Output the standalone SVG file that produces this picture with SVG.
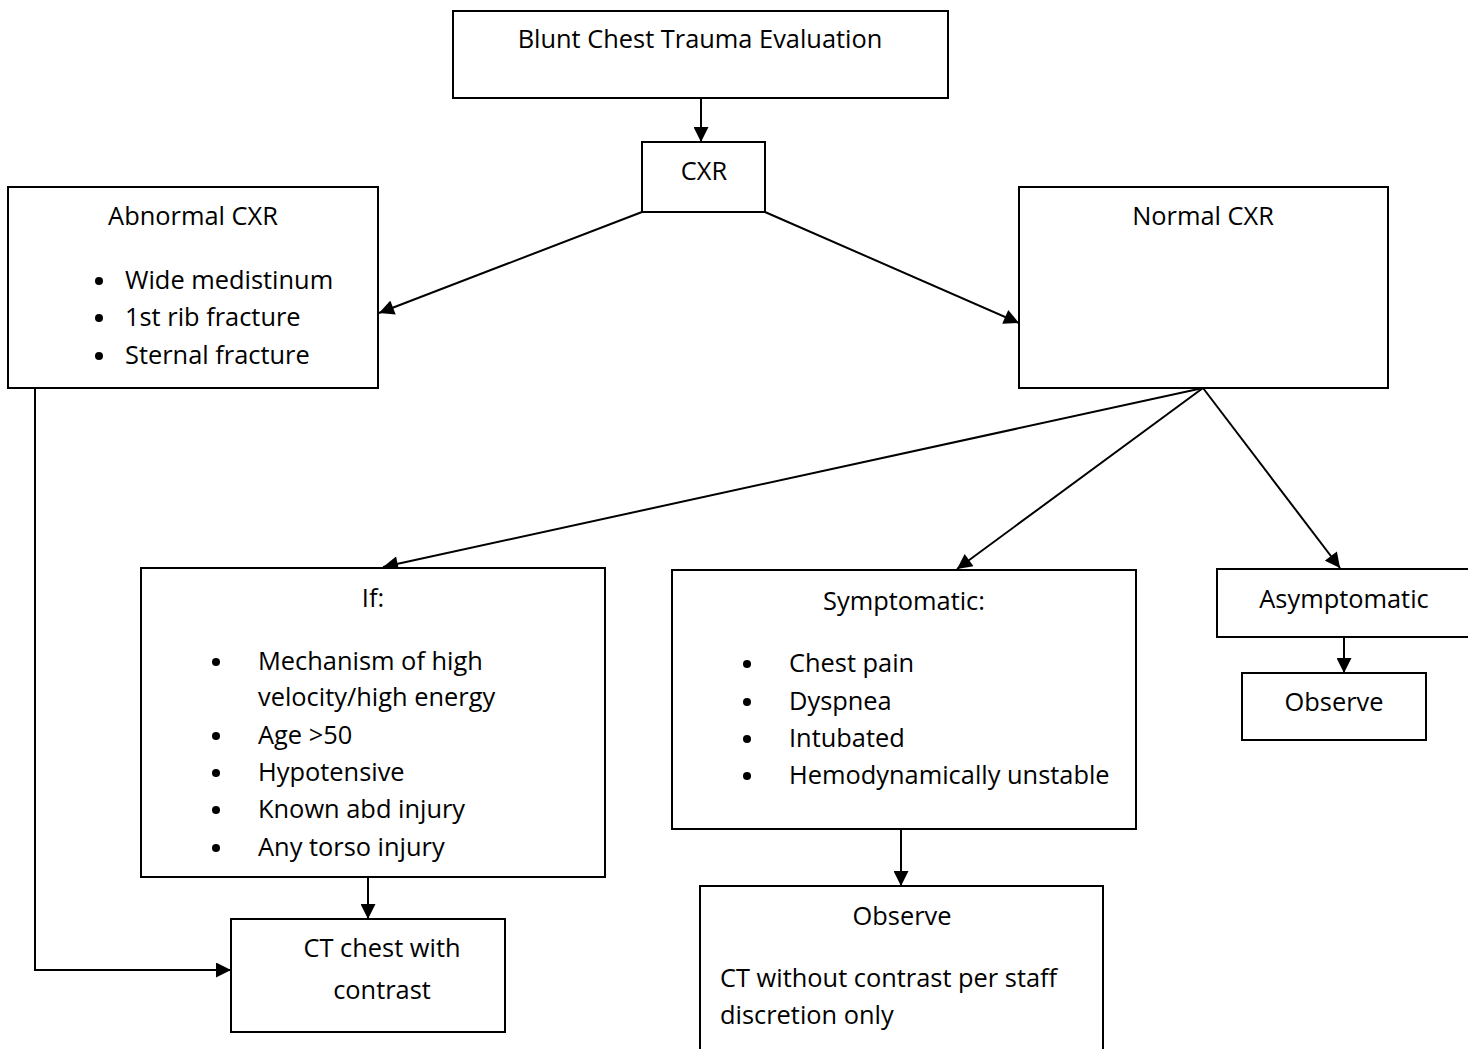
<svg xmlns="http://www.w3.org/2000/svg" width="1468" height="1049" viewBox="0 0 1468 1049">
<style>
.box{fill:#fff;stroke:#000;stroke-width:2}
text{font-family:"Open Sans","Liberation Sans",sans-serif;font-size:25.4px;fill:#000}
.c{text-anchor:middle}
.ln{stroke:#000;stroke-width:2;fill:none}
</style>
<defs>
<marker id="ah" viewBox="0 0 10 10" refX="10" refY="5" markerWidth="16" markerHeight="15" markerUnits="userSpaceOnUse" orient="auto">
<path d="M0,0 L10,5 L0,10 z" fill="#000"/>
</marker>
<circle id="dot" r="4" fill="#000"/>
</defs>
<rect width="1468" height="1049" fill="#fff"/>
<g id="connectors">
<line class="ln" x1="701" y1="98" x2="701" y2="142" marker-end="url(#ah)"/>
<line class="ln" x1="642" y1="212" x2="379" y2="313" marker-end="url(#ah)"/>
<line class="ln" x1="765" y1="212" x2="1019" y2="323" marker-end="url(#ah)"/>
<line class="ln" x1="1203" y1="388" x2="383" y2="567" marker-end="url(#ah)"/>
<line class="ln" x1="1203" y1="388" x2="957" y2="569" marker-end="url(#ah)"/>
<line class="ln" x1="1203" y1="388" x2="1340" y2="568" marker-end="url(#ah)"/>
<line class="ln" x1="1344" y1="637" x2="1344" y2="673" marker-end="url(#ah)"/>
<line class="ln" x1="368" y1="877" x2="368" y2="919" marker-end="url(#ah)"/>
<polyline class="ln" points="35,388 35,970 231,970" marker-end="url(#ah)"/>
<line class="ln" x1="901" y1="829" x2="901" y2="886" marker-end="url(#ah)"/>
</g>
<g id="n-top">
<rect class="box" x="453" y="11" width="495" height="87"/>
<text class="c" x="700" y="48">Blunt Chest Trauma Evaluation</text>
</g>
<g id="n-cxr">
<rect class="box" x="642" y="142" width="123" height="70"/>
<text class="c" x="704" y="180">CXR</text>
</g>
<g id="n-abnormal">
<rect class="box" x="8" y="187" width="370" height="201"/>
<text class="c" x="193" y="225">Abnormal CXR</text>
<use href="#dot" x="99" y="281"/><text x="125" y="289">Wide medistinum</text>
<use href="#dot" x="99" y="318"/><text x="125" y="326">1st rib fracture</text>
<use href="#dot" x="99" y="356"/><text x="125" y="364">Sternal fracture</text>
</g>
<g id="n-normal">
<rect class="box" x="1019" y="187" width="369" height="201"/>
<text class="c" x="1203" y="225">Normal CXR</text>
</g>
<g id="n-if">
<rect class="box" x="141" y="568" width="464" height="309"/>
<text class="c" x="373" y="607">If:</text>
<use href="#dot" x="216" y="662"/><text x="258" y="670">Mechanism of high</text>
<text x="258" y="706">velocity/high energy</text>
<use href="#dot" x="216" y="736"/><text x="258" y="744">Age &gt;50</text>
<use href="#dot" x="216" y="773"/><text x="258" y="781">Hypotensive</text>
<use href="#dot" x="216" y="810"/><text x="258" y="818">Known abd injury</text>
<use href="#dot" x="216" y="848"/><text x="258" y="856">Any torso injury</text>
</g>
<g id="n-symptomatic">
<rect class="box" x="672" y="570" width="464" height="259"/>
<text class="c" x="904" y="610">Symptomatic:</text>
<use href="#dot" x="747" y="664"/><text x="789" y="672">Chest pain</text>
<use href="#dot" x="747" y="702"/><text x="789" y="710">Dyspnea</text>
<use href="#dot" x="747" y="739"/><text x="789" y="747">Intubated</text>
<use href="#dot" x="747" y="776"/><text x="789" y="784">Hemodynamically unstable</text>
</g>
<g id="n-asymptomatic">
<rect class="box" x="1217" y="569" width="260" height="68"/>
<text class="c" x="1344" y="608">Asymptomatic</text>
</g>
<g id="n-observe1">
<rect class="box" x="1242" y="673" width="184" height="67"/>
<text class="c" x="1334" y="711">Observe</text>
</g>
<g id="n-ct">
<rect class="box" x="231" y="919" width="274" height="113"/>
<text class="c" x="382" y="957">CT chest with</text>
<text class="c" x="382" y="999">contrast</text>
</g>
<g id="n-observe2">
<rect class="box" x="700" y="886" width="403" height="175"/>
<text class="c" x="902" y="925">Observe</text>
<text x="720" y="987">CT without contrast per staff</text>
<text x="720" y="1024">discretion only</text>
</g>
</svg>
